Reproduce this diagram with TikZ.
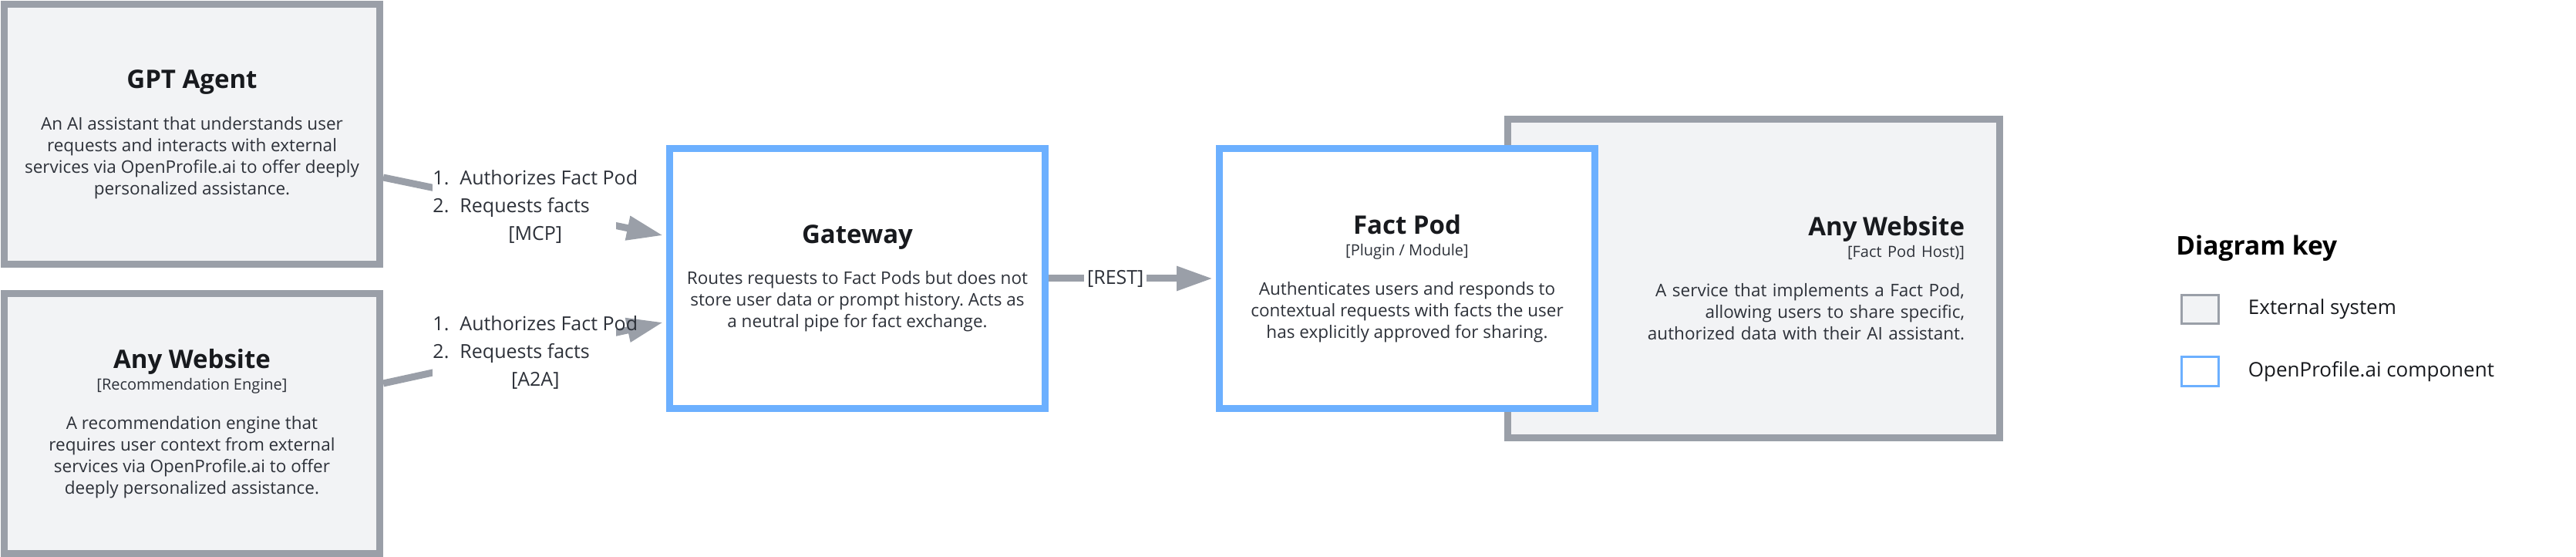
\documentclass[tikz,border=0pt]{standalone}
\usepackage{fontspec}
\setmainfont{Open Sans}
\frenchspacing
\usetikzlibrary{ % tikz packages
    positioning,arrows.meta
}
\definecolor{edgegray}{RGB}{154,159,168}
\definecolor{extfill}{RGB}{242,243,245}
\definecolor{compblue}{RGB}{108,176,255}
\definecolor{inktext}{RGB}{45,49,57}
\definecolor{inkhead}{RGB}{24,26,30}
\newcommand{\descfont}{\fontsize{11.25}{14}\selectfont}
\newcommand{\titlefont}{\fontsize{16.5}{20}\selectfont\bfseries\color{inkhead}}
\newcommand{\subfont}{\fontsize{10}{12}\selectfont}
\newcommand{\flowfont}{\fontsize{12.5}{18}\selectfont}
\newcommand{\flowsteps}[1]{\makebox[119pt][l]{\begin{tabular}{@{}l@{}}
    \makebox[17.5pt][l]{1.}Authorizes Fact Pod\\
    \makebox[17.5pt][l]{2.}Requests facts\\
    \multicolumn{1}{@{}c@{}}{[#1]}
    \end{tabular}}}
\tikzset{
    boxbase/.style={rectangle, line width=4.5pt, inner sep=0pt,
        minimum width=243.5pt, minimum height=168.5pt,
        align=center, text=inktext, font=\descfont},
    extsys/.style={boxbase, draw=edgegray, fill=extfill},
    component/.style={boxbase, draw=compblue, fill=white},
    flow/.style={draw=edgegray, line width=4.5pt, shorten >=2pt,
        -{Triangle[length=23.5pt,width=15pt]}},
    flowlbl/.style={fill=white, inner sep=0pt, text=inktext, font=\flowfont},
    keybox/.style={rectangle, line width=1.5pt, inner sep=0pt,
        minimum width=24pt, minimum height=18.5pt},
    keylbl/.style={anchor=west, inner sep=0pt, text=inkhead,
        font=\fontsize{13}{15}\selectfont}
}

\begin{document}
\begin{tikzpicture}[on grid]
    \useasboundingbox (-556pt,180.5pt) rectangle (1114.5pt,-180.5pt);

    \node[component] (gw) at (0,0) {{\titlefont Gateway}\\[12.75pt]
        Routes requests to Fact Pods but does not\\
        store user data or prompt history. Acts as\\
        a neutral pipe for fact exchange.};

    \node[extsys] (gpt) [above left=93.25pt and 431.5pt of gw] {{\titlefont GPT Agent}\\[12.75pt]
        An AI assistant that understands user\\
        requests and interacts with external\\
        services via OpenProfile.ai to offer deeply\\
        personalized assistance.};
    \node[extsys] (rec) [below left=94pt and 431.5pt of gw] {{\titlefont Any Website}\\
        {\subfont [Recommendation Engine]}\\[11.5pt]
        A recommendation engine that\\
        requires user context from external\\
        services via OpenProfile.ai to offer\\
        deeply personalized assistance.};

    \node[extsys, minimum width=319pt, minimum height=206.5pt,
        text width=273.5pt, align=right] (host) [right=581.25pt of gw] {{\titlefont Any Website}\\
        {\subfont [Fact Pod Host)]}\\[11.5pt]
        A service that implements a Fact Pod,\\
        allowing users to share specific,\\
        authorized data with their AI assistant.};
    \node[component] (fp) [right=356.5pt of gw] {{\titlefont Fact Pod}\\
        {\subfont [Plugin / Module]}\\[11.5pt]
        Authenticates users and responds to\\
        contextual requests with facts the user\\
        has explicitly approved for sharing.};

    % connectors
    \coordinate (mcpfrom) at ([yshift=-27.75pt]gpt.east);
    \coordinate (mcpto) at ([yshift=27.5pt]gw.west);
    \coordinate (a2afrom) at ([yshift=26pt]rec.east);
    \coordinate (a2ato) at ([yshift=-28pt]gw.west);

    \draw[flow] (mcpfrom) -- node[flowlbl] (mcp) {\flowsteps{MCP}} (mcpto);
    \draw[flow] (a2afrom) -- node[flowlbl] (a2a) {\flowsteps{A2A}} (a2ato);
    \draw[flow] (gw) -- node[flowlbl, pos=0.4, inner xsep=2pt] (rest) {[REST]} (fp);

    % key
    \node[keybox, draw=edgegray, fill=extfill] (keyext) [below right=20pt and 289.5pt of host] {};
    \node[keybox, draw=compblue, fill=white] (keyown) [below=40.25pt of keyext] {};
    \node[anchor=west, inner sep=0pt, text=black, font=\fontsize{16.75}{19}\selectfont\bfseries]
        (keyhead) at ([xshift=-3pt,yshift=39.5pt]keyext.west) {Diagram key};
    \node[keylbl] (keyextlbl) at ([xshift=18.25pt]keyext.east) {External system};
    \node[keylbl] (keyownlbl) at ([xshift=18.25pt]keyown.east) {OpenProfile.ai component};
\end{tikzpicture}
\end{document}
